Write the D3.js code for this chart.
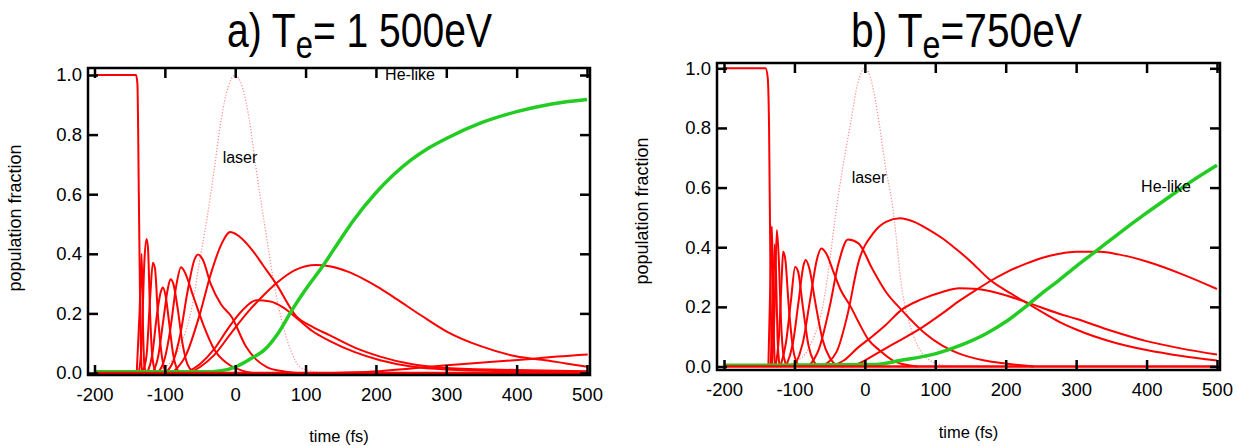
<!DOCTYPE html>
<html><head><meta charset="utf-8">
<script src="https://cdn.jsdelivr.net/npm/d3@7"></script>
<style>body{margin:0;background:#fff}svg{display:block}text{font-family:"Liberation Sans",Arial,sans-serif;fill:#000}</style>
</head><body><svg id="c" width="1239" height="446"></svg>
<script>
// ---------- data (time in fs, population fraction) ----------
const xTicks = [-200, -100, 0, 100, 200, 300, 400, 500];
const yTicks = [0, 0.2, 0.4, 0.6, 0.8, 1.0];
const titleA = ["a) T", "e", "= 1 500eV"];
const titleB = ["b) T", "e", "=750eV"];

// panel a
const laserA = [[-125,0],[-100,0.02],[-80,0.08],[-60,0.24],[-51,0.37],[-40,0.52],[-30,0.68],[-20,0.85],[-10,0.96],[0,1],[10,0.96],[20,0.85],[30,0.68],[41,0.51],[60,0.24],[80,0.07],[92,0.02],[110,0.005],[125,0]];
const a0 = [[-200,1],[-141,1],[-139,0.97],[-137,0.6],[-135,0.2],[-133,0.02],[-131,0]];
const a1 = [[-140,0],[-136,0.2],[-133,0.40],[-131,0.15],[-129,0.02],[-126,0]];
const a2 = [[-137,0],[-133,0.1],[-129,0.38],[-126,0.45],[-124,0.42],[-121,0.2],[-118,0.06],[-114,0.01],[-110,0]];
const a3 = [[-132,0],[-126,0.06],[-121,0.25],[-117,0.37],[-114,0.35],[-110,0.2],[-105,0.07],[-100,0.01],[-96,0]];
const a4 = [[-125,0],[-118,0.06],[-111,0.2],[-106,0.27],[-103,0.287],[-99,0.26],[-94,0.17],[-88,0.06],[-82,0.01],[-78,0]];
const a5 = [[-118,0],[-110,0.05],[-102,0.18],[-96,0.28],[-92,0.315],[-88,0.3],[-82,0.22],[-75,0.1],[-68,0.03],[-60,0.005],[-55,0]];
const a6 = [[-110,0],[-100,0.05],[-92,0.15],[-84,0.29],[-77,0.355],[-72,0.34],[-60,0.26],[-45,0.16],[-30,0.08],[-10,0.03],[10,0.008],[25,0]];
const a7 = [[-100,0],[-88,0.04],[-78,0.13],[-68,0.27],[-58,0.38],[-53,0.398],[-46,0.38],[-35,0.3],[-20,0.23],[-5,0.188],[15,0.09],[30,0.045],[45,0.02],[70,0.005],[90,0]];
const a8 = [[-90,0],[-70,0.06],[-50,0.2],[-35,0.33],[-20,0.43],[-7,0.473],[10,0.45],[25,0.41],[40,0.36],[58,0.30],[87,0.19],[110,0.155],[134,0.127],[170,0.085],[206,0.055],[250,0.03],[300,0.017],[400,0.01],[500,0.006]];
const a9 = [[-70,0],[-50,0.03],[-30,0.08],[-10,0.15],[10,0.21],[30,0.244],[50,0.24],[68,0.22],[91,0.177],[110,0.14],[134,0.108],[170,0.07],[206,0.043],[250,0.022],[300,0.012],[400,0.006],[500,0.004]];
const a10 = [[-65,0],[-50,0.02],[-30,0.06],[-4,0.14],[20,0.21],[40,0.26],[58,0.30],[85,0.345],[115,0.362],[134,0.358],[160,0.34],[182,0.316],[206,0.284],[230,0.247],[265,0.192],[300,0.14],[349,0.09],[399,0.056],[444,0.042],[470,0.032],[501,0.021]];
const a11 = [[140,0],[196,0.005],[250,0.015],[296,0.025],[339,0.033],[381,0.04],[420,0.047],[458,0.055],[501,0.062]];
const heA = [[-200,0.004],[-45,0.004],[-20,0.008],[0,0.02],[20,0.045],[44,0.083],[60,0.13],[82,0.216],[100,0.28],[125,0.361],[150,0.45],[168,0.512],[200,0.605],[225,0.665],[250,0.715],[275,0.755],[300,0.787],[350,0.84],[400,0.877],[450,0.903],[500,0.918]];

// panel b
const laserB = [[-125,0],[-100,0.015],[-80,0.06],[-60,0.2],[-36,0.6],[-20,0.82],[-10,0.95],[0,1],[10,0.95],[20,0.82],[30,0.66],[38,0.56],[54,0.24],[65,0.13],[76,0.065],[90,0.025],[110,0.005],[125,0]];
const b0 = [[-200,1],[-141,1],[-138,0.97],[-136,0.8],[-134,0.3],[-132,0.02],[-130,0]];
const b1 = [[-137,0],[-134,0.3],[-132,0.47],[-130,0.2],[-128,0.02],[-126,0]];
const b2 = [[-134,0],[-131,0.15],[-128,0.41],[-126,0.3],[-124,0.1],[-121,0]];
const b3 = [[-132,0],[-128,0.2],[-125,0.458],[-122,0.35],[-119,0.15],[-115,0.03],[-110,0]];
const b4 = [[-127,0],[-122,0.1],[-118,0.3],[-116,0.385],[-113,0.36],[-108,0.2],[-102,0.06],[-96,0.01],[-92,0]];
const b5 = [[-120,0],[-112,0.08],[-105,0.22],[-99,0.334],[-95,0.32],[-88,0.2],[-80,0.07],[-72,0.015],[-66,0]];
const b6 = [[-112,0],[-102,0.08],[-94,0.22],[-87,0.34],[-84,0.357],[-79,0.33],[-70,0.21],[-60,0.09],[-50,0.03],[-40,0.005],[-30,0]];
const b7 = [[-100,0],[-88,0.08],[-78,0.22],[-68,0.36],[-62,0.396],[-55,0.38],[-45,0.32],[-35,0.26],[-20,0.2],[-9,0.149],[5,0.09],[21,0.054],[40,0.02],[60,0.005],[75,0]];
const b8 = [[-80,0],[-65,0.06],[-50,0.2],[-38,0.34],[-24,0.426],[-9,0.413],[10,0.33],[30,0.25],[52,0.19],[86,0.11],[110,0.07],[134,0.043],[170,0.02],[200,0.01],[240,0]];
const b9 = [[-62,0],[-40,0.05],[-25,0.17],[-9,0.35],[12,0.447],[30,0.485],[50,0.497],[70,0.485],[90,0.46],[110,0.43],[130,0.393],[149,0.355],[177,0.292],[200,0.255],[219,0.228],[250,0.185],[276,0.15],[300,0.124],[350,0.083],[400,0.055],[450,0.035],[500,0.02]];
const b10 = [[-50,0],[-30,0.02],[-9,0.065],[10,0.1],[30,0.14],[52,0.19],[80,0.225],[110,0.25],[134,0.262],[160,0.26],[191,0.245],[229,0.216],[276,0.177],[300,0.16],[350,0.12],[400,0.085],[450,0.06],[500,0.04]];
const b11 = [[-20,0],[0,0.02],[7,0.03],[40,0.075],[82,0.132],[110,0.178],[134,0.22],[160,0.26],[177,0.285],[200,0.315],[229,0.345],[250,0.363],[276,0.378],[300,0.385],[334,0.385],[360,0.376],[400,0.352],[450,0.31],[500,0.26]];
const heB = [[-200,0.004],[16,0.007],[50,0.02],[101,0.043],[140,0.075],[172,0.11],[200,0.15],[229,0.202],[250,0.243],[276,0.29],[300,0.336],[330,0.39],[360,0.445],[400,0.515],[430,0.565],[460,0.615],[500,0.675]];
const baseline = [[-200,0],[500,0]];

// ---------- drawing ----------
const svg = d3.select("#c");

function drawPanel(p) {
  const x = d3.scaleLinear().domain([-200, 500]).range([p.xr0, p.xr1]);
  const y = d3.scaleLinear().domain([0, 1]).range([p.yr0, p.yr1]);
  const g = svg.append("g");
  const line = d3.line().x(d => x(d[0])).y(d => y(d[1])).curve(d3.curveMonotoneX);

  g.append("path").datum(p.laser).attr("d", line)
    .attr("fill", "none").attr("stroke", "#ff8c8c").attr("stroke-width", 1.2)
    .attr("stroke-dasharray", "1.2,1.8");

  g.selectAll("path.red").data(p.reds).join("path").attr("class", "red")
    .attr("d", line).attr("fill", "none").attr("stroke", "#ff0000")
    .attr("stroke-width", 2).attr("stroke-linejoin", "round");

  g.append("path").datum(p.he).attr("d", line).attr("fill", "none")
    .attr("stroke", "#22cc22").attr("stroke-width", 3.5);

  g.append("path").datum(baseline).attr("d", line).attr("fill", "none")
    .attr("stroke", "#ff0000").attr("stroke-width", 2.5);

  // frame
  g.append("rect").attr("x", p.fx0).attr("y", p.fy0)
    .attr("width", p.fx1 - p.fx0).attr("height", p.fy1 - p.fy0)
    .attr("fill", "none").attr("stroke", "#000").attr("stroke-width", 2.5);

  const styleAxis = sel => {
    sel.select(".domain").remove();
    sel.selectAll(".tick line").attr("stroke", "#000").attr("stroke-width", 2.5);
    sel.selectAll(".tick text").style("font-size", "18.5px").attr("fill", "#000");
  };
  g.append("g").attr("transform", `translate(0,${p.fy1})`)
    .call(d3.axisBottom(x).tickValues(xTicks).tickSize(-10).tickPadding(13).tickFormat(d => String(d)))
    .call(styleAxis);
  g.append("g").attr("transform", `translate(0,${p.fy0})`)
    .call(d3.axisTop(x).tickValues(xTicks).tickSize(-10).tickFormat(""))
    .call(styleAxis);
  g.append("g").attr("transform", `translate(${p.fx0},0)`)
    .call(d3.axisLeft(y).tickValues(yTicks).tickSize(-10).tickPadding(6).tickFormat(d => d.toFixed(1)))
    .call(styleAxis);
  g.append("g").attr("transform", `translate(${p.fx1},0)`)
    .call(d3.axisRight(y).tickValues(yTicks).tickSize(-10).tickFormat(""))
    .call(styleAxis);

  // axis titles
  g.append("text").attr("x", (p.fx0 + p.fx1) / 2).attr("y", p.xlabY)
    .attr("text-anchor", "middle").style("font-size", "16.5px").text("time (fs)");
  g.append("text").attr("transform", `translate(${p.ylabX},${p.ylabY}) rotate(-90)`)
    .attr("text-anchor", "middle").style("font-size", "18px").text("population fraction");

  // annotations
  g.append("text").attr("x", p.laserLab[0]).attr("y", p.laserLab[1])
    .attr("text-anchor", "middle").style("font-size", "16px").text("laser");
  g.append("text").attr("x", p.heLab[0]).attr("y", p.heLab[1])
    .attr("text-anchor", "middle").style("font-size", "16px").text("He-like");

  // title
  const t = svg.append("text").style("font-size", "48px").attr("text-anchor", "start");
  t.append("tspan").text(p.title[0]);
  t.append("tspan").style("font-size", "38px").attr("dy", 11).text(p.title[1]);
  t.append("tspan").attr("dy", -11).text(p.title[2]);
  const bb = t.node().getBBox();
  const sx = (p.titleX1 - p.titleX0) / bb.width;
  t.attr("transform", `translate(${p.titleX0},${p.titleBase}) scale(${sx},1)`);
}

drawPanel({
  xr0: 94.5, xr1: 587, yr0: 373, yr1: 75,
  fx0: 88, fy0: 68, fx1: 590, fy1: 375,
  laser: laserA, reds: [a0,a1,a2,a3,a4,a5,a6,a7,a8,a9,a10,a11], he: heA,
  xlabY: 442, ylabX: 21, ylabY: 218,
  laserLab: [240, 163], heLab: [410, 80],
  title: titleA, titleX0: 227, titleX1: 492, titleBase: 47
});
drawPanel({
  xr0: 724, xr1: 1217, yr0: 366.5, yr1: 68.3,
  fx0: 717, fy0: 63, fx1: 1220, fy1: 370,
  laser: laserB, reds: [b0,b1,b2,b3,b4,b5,b6,b7,b8,b9,b10,b11], he: heB,
  xlabY: 438, ylabX: 648, ylabY: 211,
  laserLab: [869, 183], heLab: [1166, 192],
  title: titleB, titleX0: 851, titleX1: 1082, titleBase: 47
});
</script></body></html>
